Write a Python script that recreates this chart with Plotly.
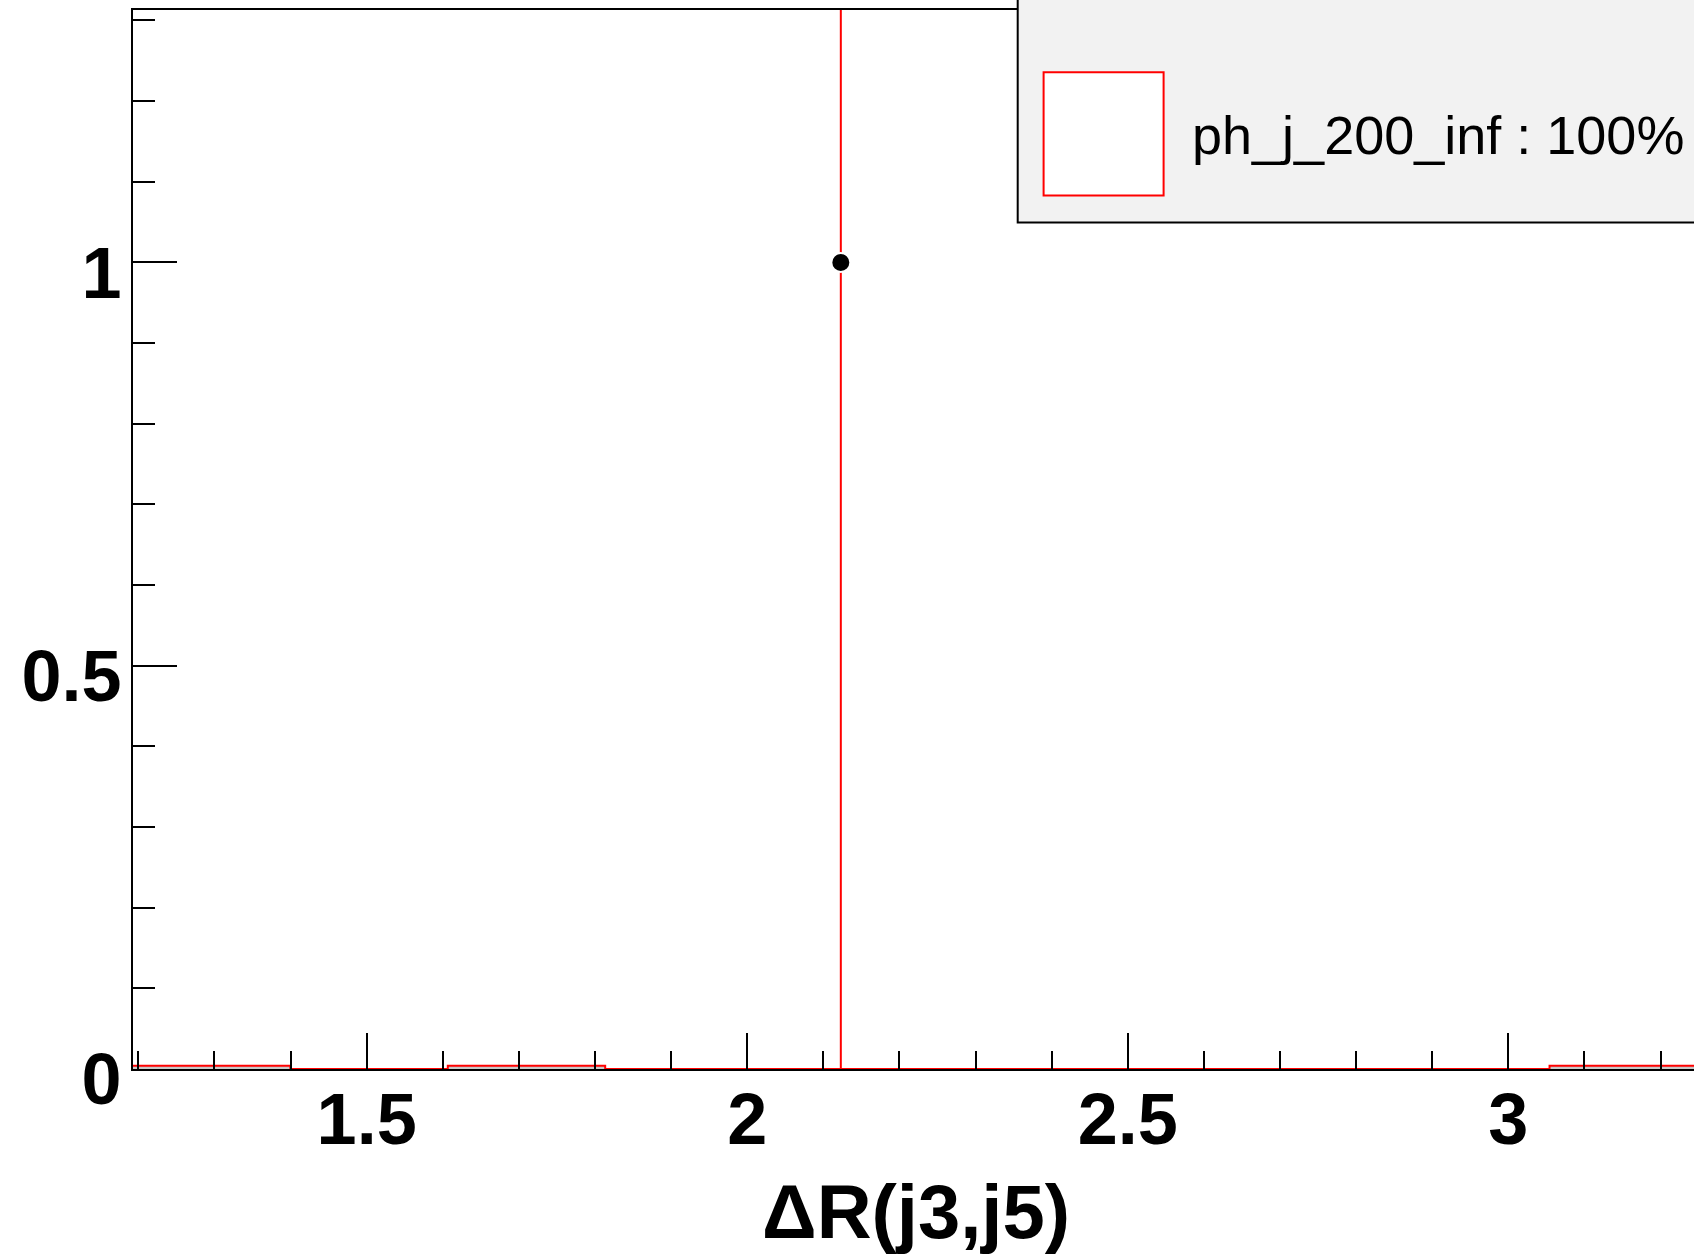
import plotly.graph_objects as go

# ---- data ----
bin_edges = [1.193, 1.3998, 1.6066, 1.8134, 2.0202, 2.227, 2.4338, 2.6406, 2.8474, 3.0542, 3.261]
stack_values = [0.004, 0.0, 0.004, 0.0, 0.0, 0.0, 0.0, 0.0, 0.0, 0.004]
point_x = [2.123]
point_y = [1.0]
point_err = [1.0]
legend_label = "ph_j_200_inf : 100%"
x_title = "ΔR(j3,j5)"

W, H = 1694, 1254
L, R, T, B = 133, 1694, 10, 1069.5
FONT = "Liberation Sans, Arial, sans-serif"


def px_x(p):
    return (p - L) / (R - L)


def px_y(p):
    return (B - p) / (B - T)


fig = go.Figure()

fig.add_trace(go.Scatter(
    x=bin_edges,
    y=stack_values + [stack_values[-1]],
    mode="lines",
    line=dict(color="red", width=2, shape="hv"),
    fill="tozeroy",
    fillcolor="rgb(200,200,200)",
    showlegend=False,
    hoverinfo="skip",
))

fig.add_trace(go.Scatter(
    x=point_x,
    y=point_y,
    mode="markers",
    marker=dict(color="black", size=19, line=dict(color="white", width=2)),
    error_y=dict(type="data", array=point_err, color="red", thickness=2, width=0),
    showlegend=False,
))

axis_common = dict(
    showline=True, linecolor="black", linewidth=2,
    showgrid=False, zeroline=False,
    ticks="inside", tickcolor="black", tickwidth=2,
    tickfont=dict(family=FONT, size=72, color="black", weight="bold"),
    layer="above traces",
)

fig.update_layout(
    width=W, height=H,
    margin=dict(l=L, r=W - R, t=T, b=H - B, pad=0),
    paper_bgcolor="white", plot_bgcolor="white",
    showlegend=False,
    xaxis=dict(
        range=[1.193, 3.244],
        dtick=0.5, tick0=0, ticklen=36, mirror=True,
        minor=dict(dtick=0.1, tick0=0, ticks="inside", ticklen=18, tickwidth=2, tickcolor="black", showgrid=False),
        ticklabelstandoff=-13,
        **axis_common,
    ),
    yaxis=dict(
        range=[0, 1.313],
        dtick=0.5, tick0=0, ticklen=44,
        minor=dict(dtick=0.1, tick0=0, ticks="inside", ticklen=22, tickwidth=2, tickcolor="black", showgrid=False),
        ticklabelstandoff=-5, ticklabelshift=10,
        **axis_common,
    ),
)

# legend box
fig.add_shape(type="rect", xref="paper", yref="paper",
              x0=px_x(1017.7), x1=1.02, y0=px_y(222.6), y1=1.03,
              fillcolor="#f2f2f2", line=dict(color="black", width=2), layer="above")
fig.add_shape(type="rect", xref="paper", yref="paper",
              x0=px_x(1043.6), x1=px_x(1163.6), y0=px_y(195.6), y1=px_y(72.4),
              fillcolor="white", line=dict(color="red", width=2), layer="above")
fig.add_annotation(xref="paper", yref="paper", x=px_x(1189.5), y=px_y(135),
                   xanchor="left", yanchor="middle", showarrow=False,
                   text=legend_label, font=dict(family=FONT, size=54, color="black"))

# x-axis title
fig.add_annotation(xref="paper", yref="paper", x=px_x(916), y=px_y(1212),
                   xanchor="center", yanchor="middle", showarrow=False,
                   text=x_title, font=dict(family=FONT, size=76, color="black", weight="bold"))

fig.write_html("out.html",
               config={"displayModeBar": False},
               post_script="document.body.style.margin='0px';document.body.style.overflow='hidden';")
